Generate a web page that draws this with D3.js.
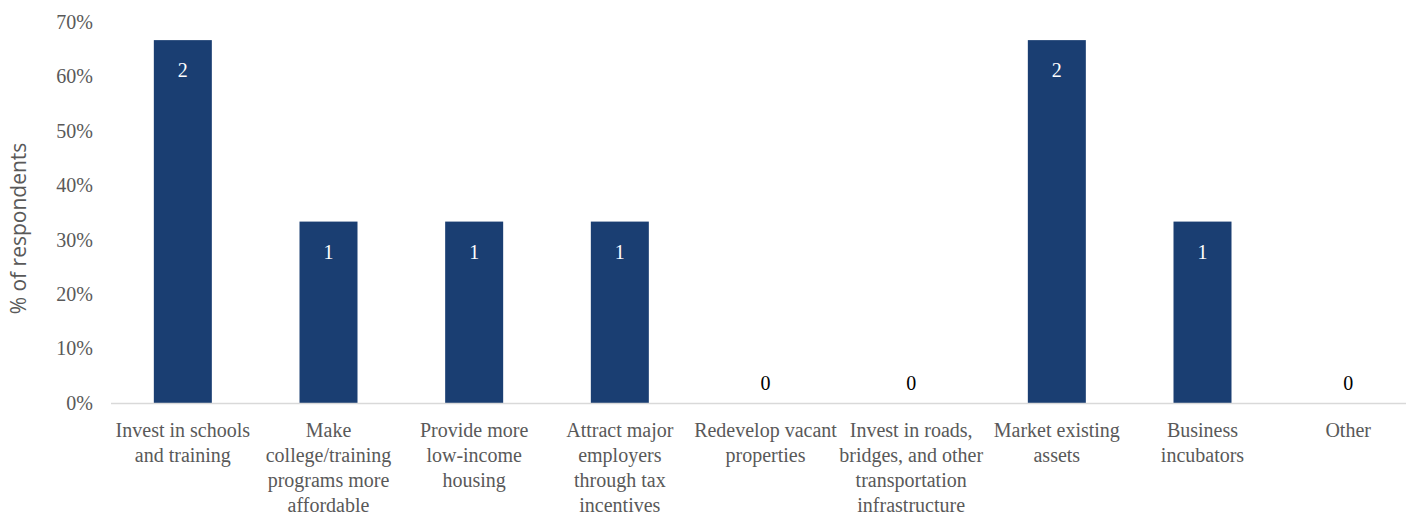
<!DOCTYPE html>
<html><head><meta charset="utf-8">
<script src="https://cdn.jsdelivr.net/npm/d3@7"></script>
<style>body{margin:0;background:#fff}svg{display:block}</style>
</head><body>
<svg id="chart" width="1411" height="516"></svg>
<script>
const categories = [
  ["Invest in schools","and training"],
  ["Make","college/training","programs more","affordable"],
  ["Provide more","low-income","housing"],
  ["Attract major","employers","through tax","incentives"],
  ["Redevelop vacant","properties"],
  ["Invest in roads,","bridges, and other","transportation","infrastructure"],
  ["Market existing","assets"],
  ["Business","incubators"],
  ["Other"]
];
const counts = [2, 1, 1, 1, 0, 0, 2, 1, 0];
const percents = [66.67, 33.33, 33.33, 33.33, 0, 0, 66.67, 33.33, 0];
const yTicks = [0, 10, 20, 30, 40, 50, 60, 70];

(function () {
const svg = d3.select("#chart");
const mLeft = 110, mRight = 1421, mTop = 22, mBottom = 403;
const serif = "'Liberation Serif', 'Times New Roman', serif";
const x = d3.scaleBand().domain(d3.range(categories.length)).range([mLeft, mRight]).paddingInner(0.6).paddingOuter(0.3);
const y = d3.scaleLinear().domain([0, 70]).range([mBottom, mTop]);

// y axis tick labels
const yAxis = d3.axisLeft(y).tickValues(yTicks).tickFormat(d => d + "%").tickSize(0).tickPadding(0);
const gy = svg.append("g").attr("transform", "translate(93,0)").call(yAxis);
gy.select(".domain").remove();
gy.selectAll("text").attr("font-family", serif).attr("font-size", 20).attr("fill", "#595959");

// bars
const bw = 58;
svg.selectAll("rect.bar").data(percents).join("rect")
  .attr("x", (d, i) => x(i) + x.bandwidth() / 2 - bw / 2)
  .attr("width", bw)
  .attr("y", d => y(d))
  .attr("height", d => mBottom - y(d))
  .attr("fill", "#1a3e72");

// baseline
svg.append("line").attr("x1", mLeft + 1).attr("x2", 1406).attr("y1", mBottom + 0.5).attr("y2", mBottom + 0.5)
  .attr("stroke", "#d9d9d9").attr("stroke-width", 1.5);

// data labels
svg.selectAll("text.dl").data(percents).join("text")
  .attr("x", (d, i) => x(i) + x.bandwidth() / 2)
  .attr("y", d => d > 0 ? y(d) + 37 : mBottom - 13)
  .attr("text-anchor", "middle")
  .attr("font-family", serif).attr("font-size", 20)
  .attr("fill", d => d > 0 ? "#ffffff" : "#000000")
  .text((d, i) => counts[i]);

// x category labels
const gx = svg.append("g");
categories.forEach((lines, i) => {
  const t = gx.append("text")
    .attr("x", x(i) + x.bandwidth() / 2)
    .attr("y", 437)
    .attr("text-anchor", "middle")
    .attr("font-family", serif).attr("font-size", 20)
    .attr("fill", "#595959");
  lines.forEach((ln, j) => {
    t.append("tspan").attr("x", x(i) + x.bandwidth() / 2).attr("dy", j === 0 ? 0 : 25).text(ln);
  });
});

// y axis title
svg.append("text")
  .attr("transform", "translate(26," + ((mTop + mBottom) / 2 + 16) + ") rotate(-90)")
  .attr("text-anchor", "middle")
  .attr("font-family", "'Open Sans', sans-serif").attr("font-size", 21)
  .attr("fill", "#595959")
  .text("% of respondents");
})();
</script>
</body></html>
